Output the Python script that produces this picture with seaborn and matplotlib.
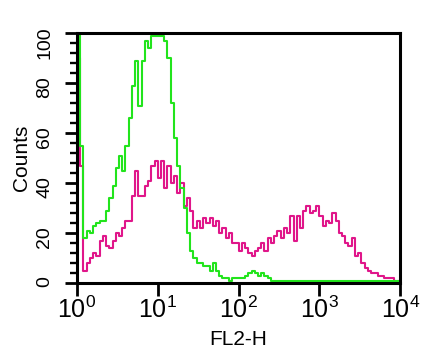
import matplotlib
matplotlib.use("Agg")
import matplotlib.pyplot as plt
import seaborn as sns
import numpy as np
import pandas as pd
from matplotlib.ticker import LogLocator, MultipleLocator, NullFormatter

sns.set_style("ticks")
plt.rcParams['font.family'] = ['Liberation Sans', 'DejaVu Sans']
plt.rcParams['mathtext.fontset'] = 'custom'
plt.rcParams['mathtext.rm'] = 'Liberation Sans'
plt.rcParams['mathtext.it'] = 'Liberation Sans'
plt.rcParams['mathtext.bf'] = 'Liberation Sans:bold'
for key in ['text.color', 'axes.labelcolor', 'xtick.color', 'ytick.color']:
    plt.rcParams[key] = 'black'

# FL2-H histogram: 100 log channels over 4 decades
n_channels = 100
channel_edges = np.logspace(0, 4, n_channels + 1)

counts_green = [
    110, 55, 18, 21, 20, 23, 24, 25, 25, 29,
    34, 39, 46, 51, 45, 55, 66, 79, 89, 71,
    89, 97, 94, 99, 99, 99, 99, 97, 90, 72,
    58, 47, 38, 30, 20, 13, 10, 8, 8, 7,
    7, 5, 8, 5, 3, 2, 2, 1, 2, 2,
    2, 2, 3, 4, 5, 4, 3, 4, 3, 2,
    1, 1, 1, 1, 1, 1, 1, 1, 1, 1,
    1, 1, 1, 1, 1, 1, 1, 1, 1, 1,
    1, 1, 1, 1, 1, 1, 1, 1, 1, 1,
    1, 1, 1, 1, 1, 1, 1, 1, 1, 1,
]
counts_magenta = [
    90, 47, 5, 8, 10, 12, 11, 17, 19, 15,
    14, 17, 20, 19, 22, 25, 25, 35, 45, 35,
    35, 39, 41, 47, 49, 42, 49, 38, 47, 40,
    43, 36, 40, 31, 34, 29, 22, 25, 22, 26,
    24, 26, 23, 25, 20, 22, 18, 20, 16, 16,
    13, 16, 14, 12, 11, 13, 14, 16, 13, 18,
    16, 19, 21, 18, 22, 20, 27, 17, 27, 22,
    29, 31, 28, 29, 31, 27, 23, 25, 24, 28,
    25, 20, 19, 16, 15, 18, 11, 12, 8, 6,
    5, 4, 4, 3, 3, 2, 2, 2, 1, 1,
]

series = {"magenta": counts_magenta, "green": counts_green}
colors = {"green": "#22e41c", "magenta": "#e0168a"}

x_ticks = [1, 10, 100, 1000, 10000]
x_tick_labels = ['$10^{0}$', '$10^{1}$', '$10^{2}$', '$10^{3}$', '$10^{4}$']
y_ticks = [0, 20, 40, 60, 80, 100]

# long-form table for step drawing (start from the baseline at the left edge)
rows = []
for name, counts in series.items():
    xs = [channel_edges[0]] + list(channel_edges)
    ys = [0] + list(counts) + [counts[-1]]
    for x, y in zip(xs, ys):
        rows.append({"FL2-H": x, "Counts": y, "sample": name})
df = pd.DataFrame(rows)

fig = plt.figure(figsize=(4.35, 3.52), dpi=100)
ax = fig.add_axes([0.177, 0.196, 0.743, 0.710])

sns.lineplot(data=df, x="FL2-H", y="Counts", hue="sample",
             hue_order=["magenta", "green"], palette=colors,
             drawstyle="steps-post", estimator=None, sort=False,
             linewidth=1.5, legend=False, ax=ax)

ax.set_xscale("log")
ax.set_xlim(1, 1e4)
ax.set_ylim(0, 100)
ax.set_xticks(x_ticks, x_tick_labels)
ax.xaxis.set_minor_locator(LogLocator(base=10, subs=range(2, 10)))
ax.xaxis.set_minor_formatter(NullFormatter())
ax.set_yticks(y_ticks, [str(v) for v in y_ticks])
ax.yaxis.set_minor_locator(MultipleLocator(4))

for s in ax.spines.values():
    s.set_linewidth(2.2)
    s.set_color("black")

ax.tick_params(axis="both", which="major", length=9, width=2,
               direction="out", color="black")
ax.tick_params(axis="both", which="minor", length=5, width=1.7,
               direction="out", color="black")
ax.tick_params(axis="x", which="major", labelsize=18, pad=1)
ax.tick_params(axis="y", which="major", labelsize=14, labelrotation=90, pad=8)

ax.set_xlabel("FL2-H", fontsize=15, labelpad=5)
ax.set_ylabel("Counts", fontsize=15, labelpad=4)

fig.savefig("out.png", dpi=100)
